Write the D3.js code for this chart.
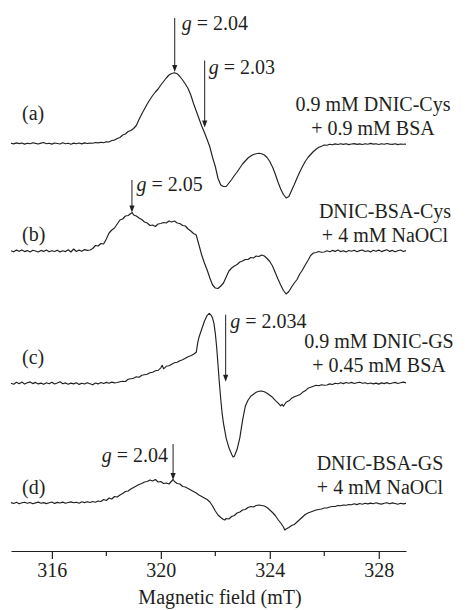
<!DOCTYPE html>
<html><head><meta charset="utf-8">
<script src="https://cdn.jsdelivr.net/npm/d3@7"></script>
<style>
body{margin:0;background:#fff}
text{font-family:"Liberation Serif","Times New Roman",serif;fill:#231f20}
</style>
</head><body>
<svg id="chart" width="465" height="610"></svg>
<script>
// ---------- DATA ----------
// EPR spectra: [magnetic field (mT), signal intensity (a.u.)]
const spectrumA = [
[314.5,0.3],[314.6,-0.4],[314.7,0.6],[314.8,-0.1],[314.9,0.5],[315.0,-0.6],[315.1,0.2],[315.2,-0.2],[315.3,0.8],[315.4,0.1],
[315.5,-0.5],[315.6,0.4],[315.7,1.0],[315.8,-0.2],[315.9,0.3],[316.0,-0.6],[316.1,0.5],[316.2,0.0],[316.3,-0.5],[316.4,0.7],
[316.5,-0.3],[316.6,0.3],[316.7,-0.7],[316.8,0.4],[316.9,-0.2],[317.0,0.5],[317.1,-0.4],[317.2,0.6],[317.3,0.0],[317.4,0.4],
[317.5,0.3],[317.6,1.0],[317.7,0.6],[317.8,1.2],[317.9,0.8],[318.0,1.8],[318.1,1.5],[318.2,3.0],[318.3,3.4],[318.4,5.0],
[318.5,6.0],[318.6,8.5],[318.7,9.5],[318.8,12.0],[318.9,13.0],[319.0,15.0],[319.1,18.0],[319.2,24.0],[319.3,29.5],[319.4,34.5],
[319.5,39.5],[319.6,44.0],[319.7,48.0],[319.8,51.5],[319.9,54.5],[320.0,58.5],[320.1,62.0],[320.2,65.5],[320.3,68.5],[320.4,70.0],
[320.5,70.8],[320.6,69.8],[320.7,67.0],[320.8,63.5],[320.9,59.5],[321.0,55.0],[321.1,48.5],[321.2,40.0],[321.3,32.5],[321.4,25.0],
[321.5,17.5],[321.6,11.0],[321.7,4.0],[321.8,-3.5],[321.9,-14.0],[322.0,-23.0],[322.1,-35.0],[322.2,-41.5],[322.3,-43.0],[322.4,-43.0],
[322.5,-39.5],[322.6,-36.0],[322.7,-32.0],[322.8,-28.5],[322.9,-24.5],[323.0,-20.5],[323.1,-17.5],[323.2,-14.5],[323.3,-12.5],[323.4,-11.0],
[323.5,-10.2],[323.6,-9.8],[323.7,-10.2],[323.8,-11.5],[323.9,-14.0],[324.0,-18.0],[324.1,-23.5],[324.2,-30.5],[324.3,-38.5],[324.4,-45.5],
[324.5,-51.0],[324.6,-54.5],[324.7,-53.0],[324.8,-47.0],[324.9,-41.0],[325.0,-34.5],[325.1,-28.5],[325.2,-23.0],[325.3,-18.0],[325.4,-14.0],
[325.5,-11.0],[325.6,-8.0],[325.7,-5.8],[325.8,-3.8],[325.9,-2.8],[326.0,-1.5],[326.1,-1.8],[326.2,-0.8],[326.3,-1.3],[326.4,-0.4],
[326.5,-1.0],[326.6,-0.3],[326.7,-0.9],[326.8,-0.2],[326.9,-1.1],[327.0,-0.5],[327.1,-0.1],[327.2,-0.9],[327.3,-0.4],[327.4,-1.0],
[327.5,-0.2],[327.6,-0.7],[327.7,0.1],[327.8,-0.6],[327.9,-0.3],[328.0,-1.0],[328.1,-0.2],[328.2,-0.8],[328.3,0.0],[328.4,-0.6],
[328.5,-0.9],[328.6,-0.3],[328.7,-1.1],[328.8,-0.5],[328.9,-0.8],[329.0,-0.6]
];
const spectrumB = [
[314.5,0.2],[314.6,-0.8],[314.7,0.9],[314.8,-0.3],[314.9,1.1],[315.0,-0.6],[315.1,0.4],[315.2,-0.9],[315.3,0.7],[315.4,0.0],
[315.5,-1.0],[315.6,0.6],[315.7,-0.4],[315.8,1.0],[315.9,-0.7],[316.0,0.3],[316.1,-0.5],[316.2,0.8],[316.3,-0.9],[316.4,0.2],
[316.5,-0.6],[316.6,1.2],[316.7,-1.0],[316.8,2.0],[316.9,-0.5],[317.0,0.9],[317.1,-0.3],[317.2,1.4],[317.3,0.6],[317.4,1.0],
[317.5,2.5],[317.6,5.5],[317.7,5.0],[317.8,7.5],[317.9,7.0],[318.0,12.0],[318.1,18.0],[318.2,21.0],[318.3,23.0],[318.4,27.0],
[318.5,31.0],[318.6,32.0],[318.7,35.0],[318.8,35.5],[318.9,37.5],[318.95,38.5],[319.0,36.0],[319.1,35.0],[319.2,33.0],[319.3,31.5],
[319.4,29.0],[319.5,28.0],[319.6,25.5],[319.7,26.0],[319.8,24.5],[319.9,27.0],[320.0,27.5],[320.1,28.5],[320.2,28.0],[320.3,30.0],
[320.4,29.0],[320.5,30.0],[320.6,28.0],[320.7,27.5],[320.8,25.5],[320.9,25.0],[321.0,22.0],[321.1,20.0],[321.2,17.5],[321.3,16.0],
[321.35,11.0],[321.4,6.0],[321.5,-4.0],[321.6,-12.0],[321.7,-19.0],[321.8,-27.0],[321.9,-34.0],[322.0,-37.0],[322.1,-37.5],[322.2,-35.0],
[322.3,-32.0],[322.4,-26.0],[322.5,-20.0],[322.6,-17.0],[322.7,-15.0],[322.8,-13.5],[322.9,-11.0],[323.0,-10.0],[323.1,-8.5],[323.2,-8.5],
[323.3,-6.5],[323.4,-7.0],[323.5,-5.0],[323.6,-5.5],[323.7,-4.0],[323.8,-5.0],[323.9,-7.5],[324.0,-10.5],[324.1,-15.0],[324.2,-21.5],
[324.3,-28.0],[324.4,-34.0],[324.5,-39.5],[324.6,-43.0],[324.7,-40.5],[324.8,-36.0],[324.9,-32.0],[325.0,-28.5],[325.1,-23.0],[325.2,-19.0],
[325.3,-14.0],[325.4,-9.5],[325.5,-4.5],[325.6,-2.0],[325.7,-1.5],[325.8,-0.5],[325.9,-1.2],[326.0,-1.0],[326.1,0.2],[326.2,-0.8],
[326.3,0.6],[326.4,-0.4],[326.5,0.9],[326.6,-0.6],[326.7,0.3],[326.8,-0.9],[326.9,0.5],[327.0,-0.2],[327.1,0.8],[327.2,-0.7],
[327.3,0.4],[327.4,1.0],[327.5,-0.5],[327.6,0.2],[327.7,-0.9],[327.8,0.7],[327.9,-0.3],[328.0,0.9],[328.1,-0.6],[328.2,0.4],
[328.3,1.2],[328.4,-0.4],[328.5,0.6],[328.6,-0.8],[328.7,0.3],[328.8,1.0],[328.9,-0.5],[329.0,0.4]
];
const spectrumC = [
[314.5,0.0],[314.6,-0.9],[314.7,1.0],[314.8,-0.4],[314.9,1.3],[315.0,-0.8],[315.1,0.6],[315.2,1.4],[315.3,-0.3],[315.4,0.9],
[315.5,-0.6],[315.6,0.2],[315.7,-1.0],[315.8,0.5],[315.9,-0.4],[316.0,1.1],[316.1,-0.7],[316.2,0.3],[316.3,1.5],[316.4,-0.5],
[316.5,0.4],[316.6,-0.9],[316.7,0.2],[316.8,-0.6],[316.9,0.5],[317.0,-1.1],[317.1,0.1],[317.2,-0.7],[317.3,0.6],[317.4,-0.4],
[317.5,-1.5],[317.6,0.3],[317.7,-0.6],[317.8,0.8],[317.9,-0.2],[318.0,0.9],[318.1,0.1],[318.2,1.2],[318.3,0.4],[318.4,0.8],
[318.5,1.5],[318.6,2.0],[318.7,1.8],[318.8,4.0],[318.9,4.5],[319.0,5.0],[319.1,6.5],[319.2,6.0],[319.3,8.0],[319.4,8.5],
[319.5,9.0],[319.6,10.5],[319.7,11.0],[319.8,12.5],[319.9,13.0],[320.0,15.5],[320.05,18.0],[320.1,14.5],[320.2,17.0],[320.3,17.5],
[320.4,19.0],[320.5,20.5],[320.6,21.0],[320.7,22.5],[320.8,23.5],[320.9,25.0],[321.0,26.5],[321.1,27.5],[321.2,29.0],[321.3,31.0],
[321.35,40.0],[321.4,46.0],[321.5,54.0],[321.6,62.0],[321.7,68.0],[321.78,70.0],[321.85,68.0],[321.9,65.0],[321.95,60.0],[322.0,50.0],
[322.05,36.0],[322.1,18.0],[322.15,0.0],[322.2,-16.0],[322.25,-30.0],[322.3,-40.0],[322.4,-55.0],[322.5,-64.5],[322.6,-71.0],[322.65,-73.7],
[322.7,-73.0],[322.8,-66.0],[322.9,-54.5],[323.0,-37.0],[323.1,-23.0],[323.2,-17.0],[323.3,-13.0],[323.4,-11.0],[323.5,-9.0],[323.6,-8.0],
[323.7,-7.7],[323.8,-8.5],[323.9,-10.0],[324.0,-12.0],[324.1,-14.0],[324.2,-17.0],[324.3,-19.5],[324.4,-22.5],[324.45,-21.0],[324.5,-23.0],
[324.6,-19.0],[324.7,-17.5],[324.8,-15.0],[324.9,-13.5],[325.0,-12.5],[325.1,-11.5],[325.2,-9.0],[325.3,-7.5],[325.4,-5.0],[325.5,-4.0],
[325.6,-3.0],[325.7,-2.0],[325.8,-2.5],[325.9,-1.5],[326.0,-2.0],[326.1,-1.7],[326.2,-0.6],[326.3,-1.2],[326.4,0.0],[326.5,-0.5],
[326.6,0.6],[326.7,-0.3],[326.8,0.8],[326.9,0.1],[327.0,0.9],[327.1,-0.2],[327.2,0.5],[327.3,1.1],[327.4,0.0],[327.5,0.6],
[327.6,-0.4],[327.7,0.3],[327.8,-0.6],[327.9,0.2],[328.0,-0.8],[328.1,0.4],[328.2,-0.3],[328.3,0.7],[328.4,-0.5],[328.5,0.3],
[328.6,0.9],[328.7,-0.2],[328.8,0.5],[328.9,1.2],[329.0,0.4]
];
const spectrumD = [
[314.5,0.4],[314.6,-0.5],[314.7,0.7],[314.8,-0.8],[314.9,0.2],[315.0,0.8],[315.1,-0.3],[315.2,0.5],[315.3,-0.7],[315.4,0.1],
[315.5,0.9],[315.6,-0.2],[315.7,0.4],[315.8,-0.6],[315.9,0.3],[316.0,1.0],[316.1,-0.4],[316.2,0.6],[316.3,0.0],[316.4,0.9],
[316.5,-0.3],[316.6,0.5],[316.7,1.1],[316.8,0.2],[316.9,0.8],[317.0,-0.2],[317.1,1.2],[317.2,0.4],[317.3,1.3],[317.4,0.5],
[317.5,1.5],[317.6,0.8],[317.7,2.0],[317.8,1.5],[317.9,3.5],[318.0,2.5],[318.1,5.0],[318.2,4.0],[318.3,6.5],[318.4,6.0],
[318.5,8.0],[318.6,9.5],[318.7,11.5],[318.8,12.0],[318.9,14.0],[319.0,15.5],[319.1,17.0],[319.2,18.5],[319.3,19.5],[319.4,21.0],
[319.5,21.5],[319.6,23.0],[319.7,22.0],[319.8,23.5],[319.9,21.0],[320.0,21.5],[320.1,19.5],[320.2,20.0],[320.3,19.0],[320.4,22.0],
[320.45,23.5],[320.5,21.5],[320.6,19.5],[320.7,19.0],[320.8,16.5],[320.9,16.0],[321.0,14.5],[321.1,13.0],[321.2,11.5],[321.3,10.0],
[321.4,8.0],[321.5,6.5],[321.6,5.0],[321.7,3.5],[321.8,1.0],[321.9,-3.0],[322.0,-8.0],[322.1,-12.0],[322.2,-14.5],[322.3,-16.5],
[322.35,-17.0],[322.4,-15.5],[322.5,-16.0],[322.6,-13.5],[322.7,-12.5],[322.8,-10.0],[322.9,-9.0],[323.0,-7.0],[323.1,-6.5],[323.2,-4.5],
[323.3,-3.5],[323.4,-4.0],[323.5,-2.5],[323.6,-2.0],[323.7,-2.5],[323.8,-3.0],[323.9,-4.5],[324.0,-7.0],[324.1,-9.5],[324.2,-12.5],
[324.3,-16.5],[324.4,-20.0],[324.5,-24.0],[324.55,-27.0],[324.6,-26.0],[324.7,-24.5],[324.8,-22.5],[324.9,-21.5],[325.0,-19.0],[325.1,-16.5],
[325.2,-14.0],[325.3,-11.5],[325.4,-10.0],[325.5,-9.0],[325.6,-8.0],[325.7,-7.0],[325.8,-6.5],[325.9,-6.0],[326.0,-5.0],[326.1,-5.0],
[326.2,-4.0],[326.3,-3.5],[326.4,-3.5],[326.5,-2.5],[326.6,-2.8],[326.7,-2.0],[326.8,-2.2],[326.9,-1.5],[327.0,-1.8],[327.1,-0.8],
[327.2,-1.6],[327.3,-0.5],[327.4,-1.2],[327.5,-0.3],[327.6,-0.9],[327.7,-0.1],[327.8,-0.7],[327.9,0.2],[328.0,-0.6],[328.1,-1.1],
[328.2,-0.2],[328.3,0.3],[328.4,-0.8],[328.5,0.1],[328.6,-0.5],[328.7,-1.2],[328.8,-0.3],[328.9,-0.9],[329.0,-0.4]
];
const spectra = [spectrumA, spectrumB, spectrumC, spectrumD];
const panelLabels = ["(a)", "(b)", "(c)", "(d)"];
const sampleLine1 = ["0.9 mM DNIC-Cys", "DNIC-BSA-Cys", "0.9 mM DNIC-GS", "DNIC-BSA-GS"];
const sampleLine2 = ["+ 0.9 mM BSA", "+ 4 mM NaOCl", "+ 0.45 mM BSA", "+ 4 mM NaOCl"];
// g-value markers: spectrum index, field position (mT), g label
const gSpectrum = [0, 0, 1, 2, 3];
const gField = [320.51, 321.61, 318.94, 322.38, 320.45];
const gValues = ["2.04", "2.03", "2.05", "2.034", "2.04"];
const gTip = [71.5, 16, 38.5, 1.6, 23];
const majorTicks = [316, 320, 324, 328];
const minorTicks = [318, 322, 326];
const xTitle = "Magnetic field (mT)";

// ---------- LAYOUT ----------
const svg = d3.select("#chart");
const ink = "#231f20";
const x = d3.scaleLinear().domain([314.5, 329]).range([11, 406]);
const baseY = [143.5, 251, 383.3, 503];
const y = d3.scaleLinear().domain([-100, 100]).range([100, -100]);
const line = d3.line().x(d => x(d[0])).y(d => y(d[1]));

spectra.forEach((s, i) => {
  const g = svg.append("g").attr("transform", `translate(0,${baseY[i]})`);
  g.append("path").datum(s).attr("d", line)
    .attr("fill", "none").attr("stroke", ink).attr("stroke-width", 1.15)
    .attr("stroke-linejoin", "round");
});

// panel letters
const letterY = [120, 241, 364, 494];
panelLabels.forEach((t, i) => {
  svg.append("text").attr("x", 22).attr("y", letterY[i]).attr("font-size", 20).text(t);
});

// sample descriptions
const sampleCX = [373, 385, 379, 380];
const sampleY1 = [111, 218, 348, 470];
sampleLine1.forEach((t, i) => {
  svg.append("text").attr("x", sampleCX[i]).attr("y", sampleY1[i]).attr("text-anchor", "middle")
    .attr("font-size", 20).text(t);
  svg.append("text").attr("x", sampleCX[i]).attr("y", sampleY1[i] + 24).attr("text-anchor", "middle")
    .attr("font-size", 20).text(sampleLine2[i]);
});

// g arrows
const arrowLen = [54, 67, 32.5, 67, 36];
const labelDx = [7, 4, 4.5, 4.5, -5];
const labelDy = [12, 13, 11, 13, 18];
gField.forEach((f, k) => {
  const i = gSpectrum[k];
  const ax = x(f);
  const tipY = baseY[i] + y(gTip[k]);
  const topY = tipY - arrowLen[k];
  svg.append("line").attr("x1", ax).attr("x2", ax).attr("y1", topY).attr("y2", tipY - 5)
    .attr("stroke", ink).attr("stroke-width", 1);
  svg.append("path").attr("d", `M${ax},${tipY} L${ax - 2.6},${tipY - 7} L${ax + 2.6},${tipY - 7} Z`)
    .attr("fill", ink);
  const t = svg.append("text").attr("x", ax + labelDx[k]).attr("y", topY + labelDy[k])
    .attr("font-size", 20).attr("text-anchor", labelDx[k] < 0 ? "end" : "start");
  t.append("tspan").attr("font-style", "italic").text("g");
  t.append("tspan").text(" = " + gValues[k]);
});

// x axis
const axisY = 551;
const axisG = svg.append("g").attr("transform", `translate(0,${axisY})`);
axisG.call(d3.axisBottom(x).tickValues(majorTicks).tickSize(8).tickSizeOuter(0).tickPadding(4)
  .tickFormat(d3.format("d")));
axisG.select(".domain").attr("stroke", ink).attr("stroke-width", 1.2);
axisG.selectAll(".tick line").attr("stroke", ink).attr("stroke-width", 1.2);
axisG.selectAll(".tick text").attr("font-size", 20).attr("font-family", "Liberation Serif").attr("fill", ink);
axisG.selectAll(".minor").data(minorTicks).enter().append("line").attr("class", "minor")
  .attr("x1", d => x(d)).attr("x2", d => x(d)).attr("y1", 0).attr("y2", 5)
  .attr("stroke", ink).attr("stroke-width", 1.2);

svg.append("text").attr("x", 220).attr("y", 604).attr("text-anchor", "middle")
  .attr("font-size", 20).text(xTitle);
</script>
</body></html>
